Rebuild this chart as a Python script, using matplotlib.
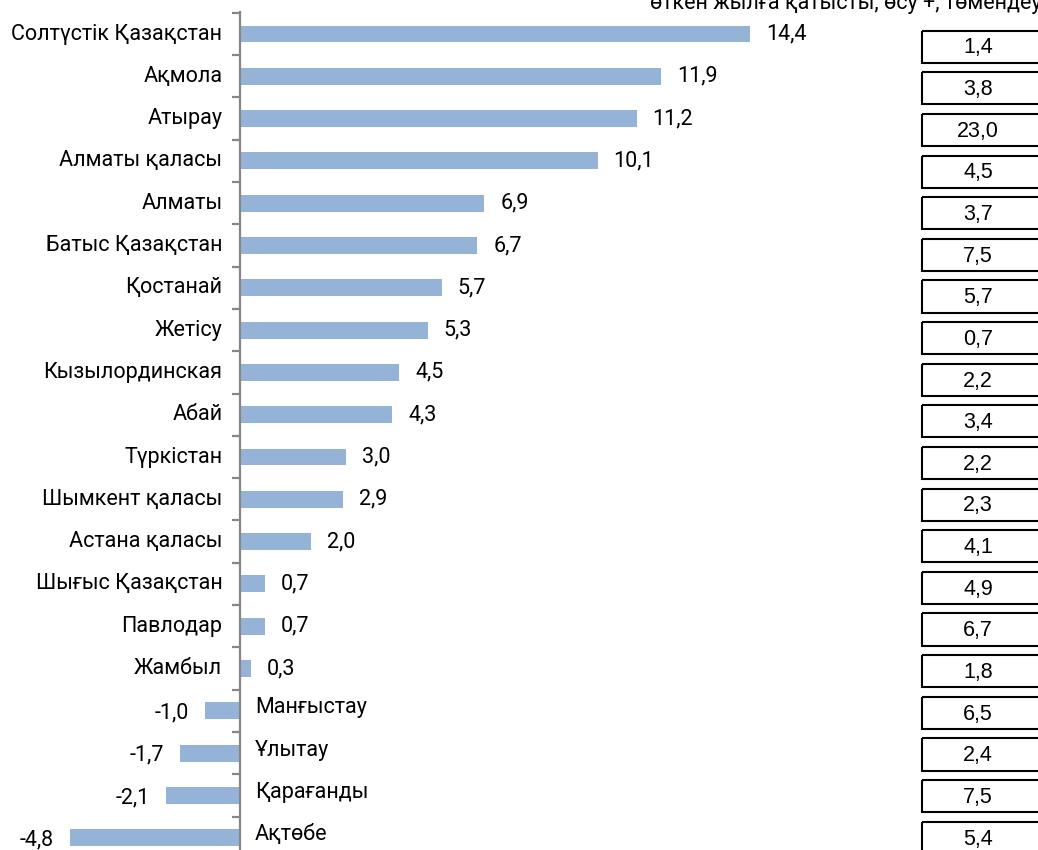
import matplotlib
matplotlib.use("Agg")
from matplotlib import pyplot as plt
from matplotlib.patches import Rectangle
import numpy as np

regions = ["Солтүстік Қазақстан", "Ақмола", "Атырау", "Алматы қаласы", "Алматы",
           "Батыс Қазақстан", "Қостанай", "Жетісу", "Кызылординская", "Абай",
           "Түркістан", "Шымкент қаласы", "Астана қаласы", "Шығыс Қазақстан",
           "Павлодар", "Жамбыл", "Манғыстау", "Ұлытау", "Қарағанды", "Ақтөбе"]
values = [14.4, 11.9, 11.2, 10.1, 6.9, 6.7, 5.7, 5.3, 4.5, 4.3,
          3.0, 2.9, 2.0, 0.7, 0.7, 0.3, -1.0, -1.7, -2.1, -4.8]
box_values = [1.4, 3.8, 23.0, 4.5, 3.7, 7.5, 5.7, 0.7, 2.2, 3.4,
              2.2, 2.3, 4.1, 4.9, 6.7, 1.8, 6.5, 2.4, 7.5, 5.4]
header = "өткен жылға қатысты, өсу +, төмендеу -"

plt.rcParams['font.family'] = ['Roboto', 'DejaVu Sans']
fs = 15.5

def fmt(v):
    return f"{v:.1f}".replace(".", ",")

fig = plt.figure(figsize=(10.38, 8.5), dpi=100)
ax = fig.add_axes([0, 0, 1, 1])
ax.set_xlim(-6.78, 22.54)
ax.set_ylim(19.29, -0.804)
ax.axis("off")

y = np.arange(len(regions))
ax.barh(y, values, height=0.40, color="#95B3D7")

# axis line and small ticks between rows
ax.axvline(0, ymin=0, ymax=0.986, color="#868686", lw=1.6)
ax.hlines(np.arange(len(regions) + 1) - 0.5, -0.23, 0, color="#868686", lw=1.6)

for i, v in enumerate(values):
    if v >= 0:
        ax.text(-0.5, i, regions[i], ha="right", va="center", fontsize=fs)
        ax.text(v + 0.45, i, fmt(v), ha="left", va="center", fontsize=fs)
    else:
        ax.text(0.42, i - 0.07, regions[i], ha="left", va="center", fontsize=fs)
        ax.text(v - 0.45, i + 0.05, fmt(v), ha="right", va="center", fontsize=fs)

# boxes on the right, drifting slightly below their rows
n = len(box_values)
for i, b in enumerate(box_values):
    c = i + 0.3 * (1 - i / (n - 1))
    ax.add_patch(Rectangle((19.27, c - 0.38), 4, 0.76, fill=False,
                           edgecolor="black", lw=1.5, clip_on=False))
    ax.text(20.85, c + 0.03, fmt(b), ha="center", va="center", fontsize=15.5,
            family=["Liberation Sans", "DejaVu Sans"])

# header line, cut by the top edge as in the source
fig.text(0.626, 0.9894, header, ha="left", va="baseline", fontsize=fs)

fig.savefig("out.png", dpi=100)
